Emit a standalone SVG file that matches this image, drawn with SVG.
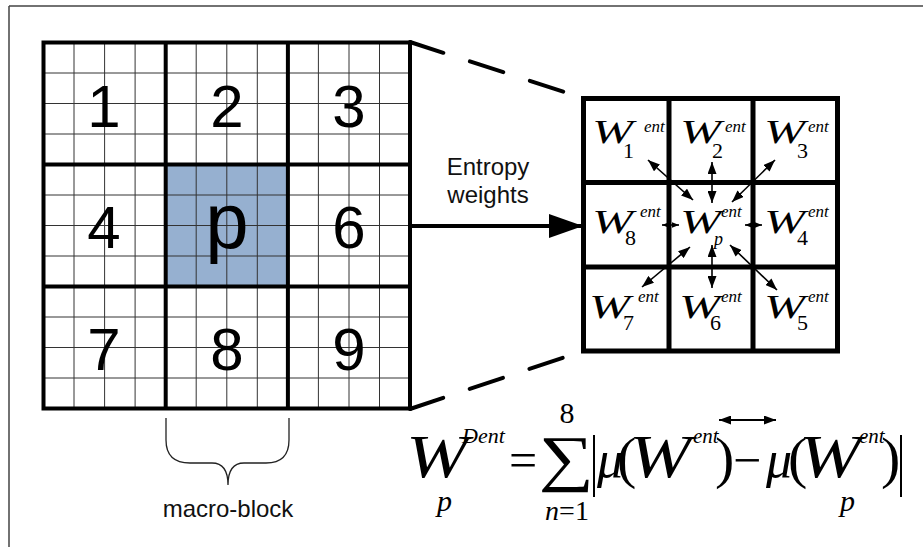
<svg xmlns="http://www.w3.org/2000/svg" width="923" height="547" viewBox="0 0 923 547">
<style>
.fine{stroke:#333;stroke-width:1;fill:none}
.thick{stroke:#000;stroke-width:4;fill:none;stroke-linecap:square}
.rg{stroke:#000;stroke-width:5;fill:none;stroke-linecap:square}
.num{font-family:"Liberation Sans",Arial,sans-serif;font-size:60px;fill:#000;text-anchor:middle}
.lab{font-family:"Liberation Sans",Arial,sans-serif;font-size:24px;fill:#111;text-anchor:middle}
.fi{font-family:"Liberation Serif","Times New Roman",serif;font-style:italic;fill:#000}
.fr{font-family:"Liberation Serif","Times New Roman",serif;fill:#000}
.w{font-size:34px}
.sub{font-size:22px}
.sup{font-size:17px}
.arr{stroke:#000;stroke-width:1.6;fill:none;marker-start:url(#ah);marker-end:url(#ah)}
</style>
<defs>
<marker id="ah" viewBox="0 0 12 9" refX="12" refY="4.5" markerWidth="12" markerHeight="9" markerUnits="userSpaceOnUse" orient="auto-start-reverse"><path d="M0,0 L12,4.5 L0,9 z" fill="#000"/></marker>
<marker id="ahs" viewBox="0 0 10 8" refX="10" refY="4" markerWidth="7" markerHeight="6" markerUnits="userSpaceOnUse" orient="auto-start-reverse"><path d="M0,0 L10,4 L0,8 z" fill="#000"/></marker>
<marker id="big" viewBox="0 0 34 24" refX="34" refY="12" markerWidth="34" markerHeight="24" markerUnits="userSpaceOnUse" orient="auto"><path d="M0,0 L34,12 L0,24 z" fill="#000"/></marker>
</defs>
<rect width="923" height="547" fill="#fff"/>
<path d="M9,6 H923 M9,6 V547" stroke="#444" stroke-width="1.5" fill="none"/>

<g id="macro-grid">
<rect x="165.7" y="164.5" width="122.2" height="122" fill="#96B0D0"/>
<path class="fine" d="M74,42.5V408.5M104.6,42.5V408.5M135.1,42.5V408.5M196.2,42.5V408.5M226.8,42.5V408.5M257.3,42.5V408.5M318.4,42.5V408.5M349,42.5V408.5M379.5,42.5V408.5"/>
<path class="fine" d="M43.5,73H410M43.5,103.5H410M43.5,134H410M43.5,195H410M43.5,225.5H410M43.5,256H410M43.5,317H410M43.5,347.5H410M43.5,378H410"/>
<path class="thick" d="M43.5,42.5H410V408.5H43.5Z M165.7,42.5V408.5 M287.9,42.5V408.5 M43.5,164.5H410 M43.5,286.5H410"/>
</g>
<g id="block-1"><text class="num" x="104" y="127">1</text></g>
<g id="block-2"><text class="num" x="227" y="127">2</text></g>
<g id="block-3"><text class="num" x="349" y="127">3</text></g>
<g id="block-4"><text class="num" x="104" y="248">4</text></g>
<g id="block-p"><text class="num" x="227" y="248" style="font-size:78px">p</text></g>
<g id="block-6"><text class="num" x="349" y="248">6</text></g>
<g id="block-7"><text class="num" x="104" y="370">7</text></g>
<g id="block-8"><text class="num" x="227" y="370">8</text></g>
<g id="block-9"><text class="num" x="349" y="370">9</text></g>

<g id="brace">
<path d="M166,418 V440 Q166,463 190,463 H212 Q228,463 228,485 Q228,463 244,463 H266 Q289,463 289,440 V418" stroke="#222" stroke-width="1.3" fill="none"/>
<text class="lab" x="228" y="517">macro-block</text>
</g>

<g id="connectors">
<path d="M410,42 L583,98" stroke="#000" stroke-width="4" stroke-dasharray="35 28" stroke-linecap="round" fill="none"/>
<path d="M410,409 L583,351" stroke="#000" stroke-width="4" stroke-dasharray="35 28" stroke-linecap="round" fill="none"/>
<path d="M412,226 H583" stroke="#000" stroke-width="4" marker-end="url(#big)"/>
<text class="lab" x="488" y="175">Entropy</text>
<text class="lab" x="488" y="203">weights</text>
<line class="arr" x1="648" y1="160" x2="693" y2="200"/>
<line class="arr" x1="712" y1="162" x2="712" y2="203"/>
<line class="arr" x1="775" y1="160" x2="732" y2="202"/>
<line class="arr" x1="690" y1="247" x2="642" y2="287"/>
<line class="arr" x1="712" y1="245" x2="712" y2="288"/>
<line class="arr" x1="730" y1="245" x2="777" y2="290"/>
<line x1="662" y1="225" x2="679" y2="225" stroke="#000" stroke-width="1.6" marker-start="url(#ahs)" marker-end="url(#ahs)"/>
<line x1="745" y1="225" x2="762" y2="225" stroke="#000" stroke-width="1.6" marker-start="url(#ahs)" marker-end="url(#ahs)"/>
</g>

<g id="weight-grid">
<path class="rg" d="M583.5,98.5H837.5V351H583.5Z M669,98.5V351 M753,98.5V351 M583.5,182.5H837.5 M583.5,267H837.5"/>
</g>
<g id="w1"><text class="fi w" transform="translate(592,143) scale(1.45,1)">W</text><text class="fr sub" x="623" y="158">1</text><text class="fi sup" x="644" y="132">ent</text></g>
<g id="w2"><text class="fi w" transform="translate(680,143) scale(1.45,1)">W</text><text class="fr sub" x="712" y="158">2</text><text class="fi sup" x="725" y="132">ent</text></g>
<g id="w3"><text class="fi w" transform="translate(764,143) scale(1.45,1)">W</text><text class="fr sub" x="797" y="158">3</text><text class="fi sup" x="808" y="132">ent</text></g>
<g id="w8"><text class="fi w" transform="translate(592,233) scale(1.45,1)">W</text><text class="fr sub" x="625" y="245">8</text><text class="fi sup" x="640" y="217">ent</text></g>
<g id="wp"><text class="fi w" transform="translate(680,233) scale(1.45,1)">W</text><text class="fi" style="font-size:18px" x="714" y="245">p</text><text class="fi sup" x="721" y="217">ent</text></g>
<g id="w4"><text class="fi w" transform="translate(764,233) scale(1.45,1)">W</text><text class="fr sub" x="797" y="245">4</text><text class="fi sup" x="808" y="217">ent</text></g>
<g id="w7"><text class="fi w" transform="translate(589,318) scale(1.45,1)">W</text><text class="fr sub" x="623" y="330">7</text><text class="fi sup" x="638" y="302">ent</text></g>
<g id="w6"><text class="fi w" transform="translate(679,318) scale(1.45,1)">W</text><text class="fr sub" x="710" y="330">6</text><text class="fi sup" x="721" y="302">ent</text></g>
<g id="w5"><text class="fi w" transform="translate(764,318) scale(1.45,1)">W</text><text class="fr sub" x="797" y="330">5</text><text class="fi sup" x="808" y="302">ent</text></g>

<g id="formula">
<text class="fi" font-size="62" transform="translate(406,477) scale(1.2,1)">W</text>
<text class="fi" x="437" y="511" font-size="30">p</text>
<text class="fi" x="462" y="443" font-size="22">Dent</text>
<text class="fr" x="523" y="477" font-size="50" text-anchor="middle">=</text>
<text class="fr" font-size="62" text-anchor="middle" transform="translate(566,479) scale(1.25,1)">∑</text>
<text class="fr" x="567" y="423" font-size="30" text-anchor="middle">8</text>
<text class="fr" x="567" y="520" font-size="28" text-anchor="middle"><tspan class="fi">n</tspan>=1</text>
<path d="M594,435V497 M901,435V497" stroke="#000" stroke-width="2"/>
<text class="fi" x="597" y="477" font-size="52">μ</text>
<text class="fr" x="617" y="477" font-size="58">(</text>
<text class="fi" font-size="62" transform="translate(629,477) scale(1.2,1)">W</text>
<text class="fi" x="693" y="443" font-size="21">ent</text>
<text class="fr" x="715" y="477" font-size="58">)</text>
<line x1="719" y1="420" x2="776" y2="420" stroke="#000" stroke-width="2" marker-start="url(#ah)" marker-end="url(#ah)"/>
<text class="fr" x="747" y="477" font-size="50" text-anchor="middle">−</text>
<text class="fi" x="766" y="477" font-size="52">μ</text>
<text class="fr" x="788" y="477" font-size="58">(</text>
<text class="fi" font-size="62" transform="translate(799,477) scale(1.2,1)">W</text>
<text class="fi" x="859" y="443" font-size="21">ent</text>
<text class="fi" x="840" y="511" font-size="30">p</text>
<text class="fr" x="881" y="477" font-size="58">)</text>
</g>
</svg>
